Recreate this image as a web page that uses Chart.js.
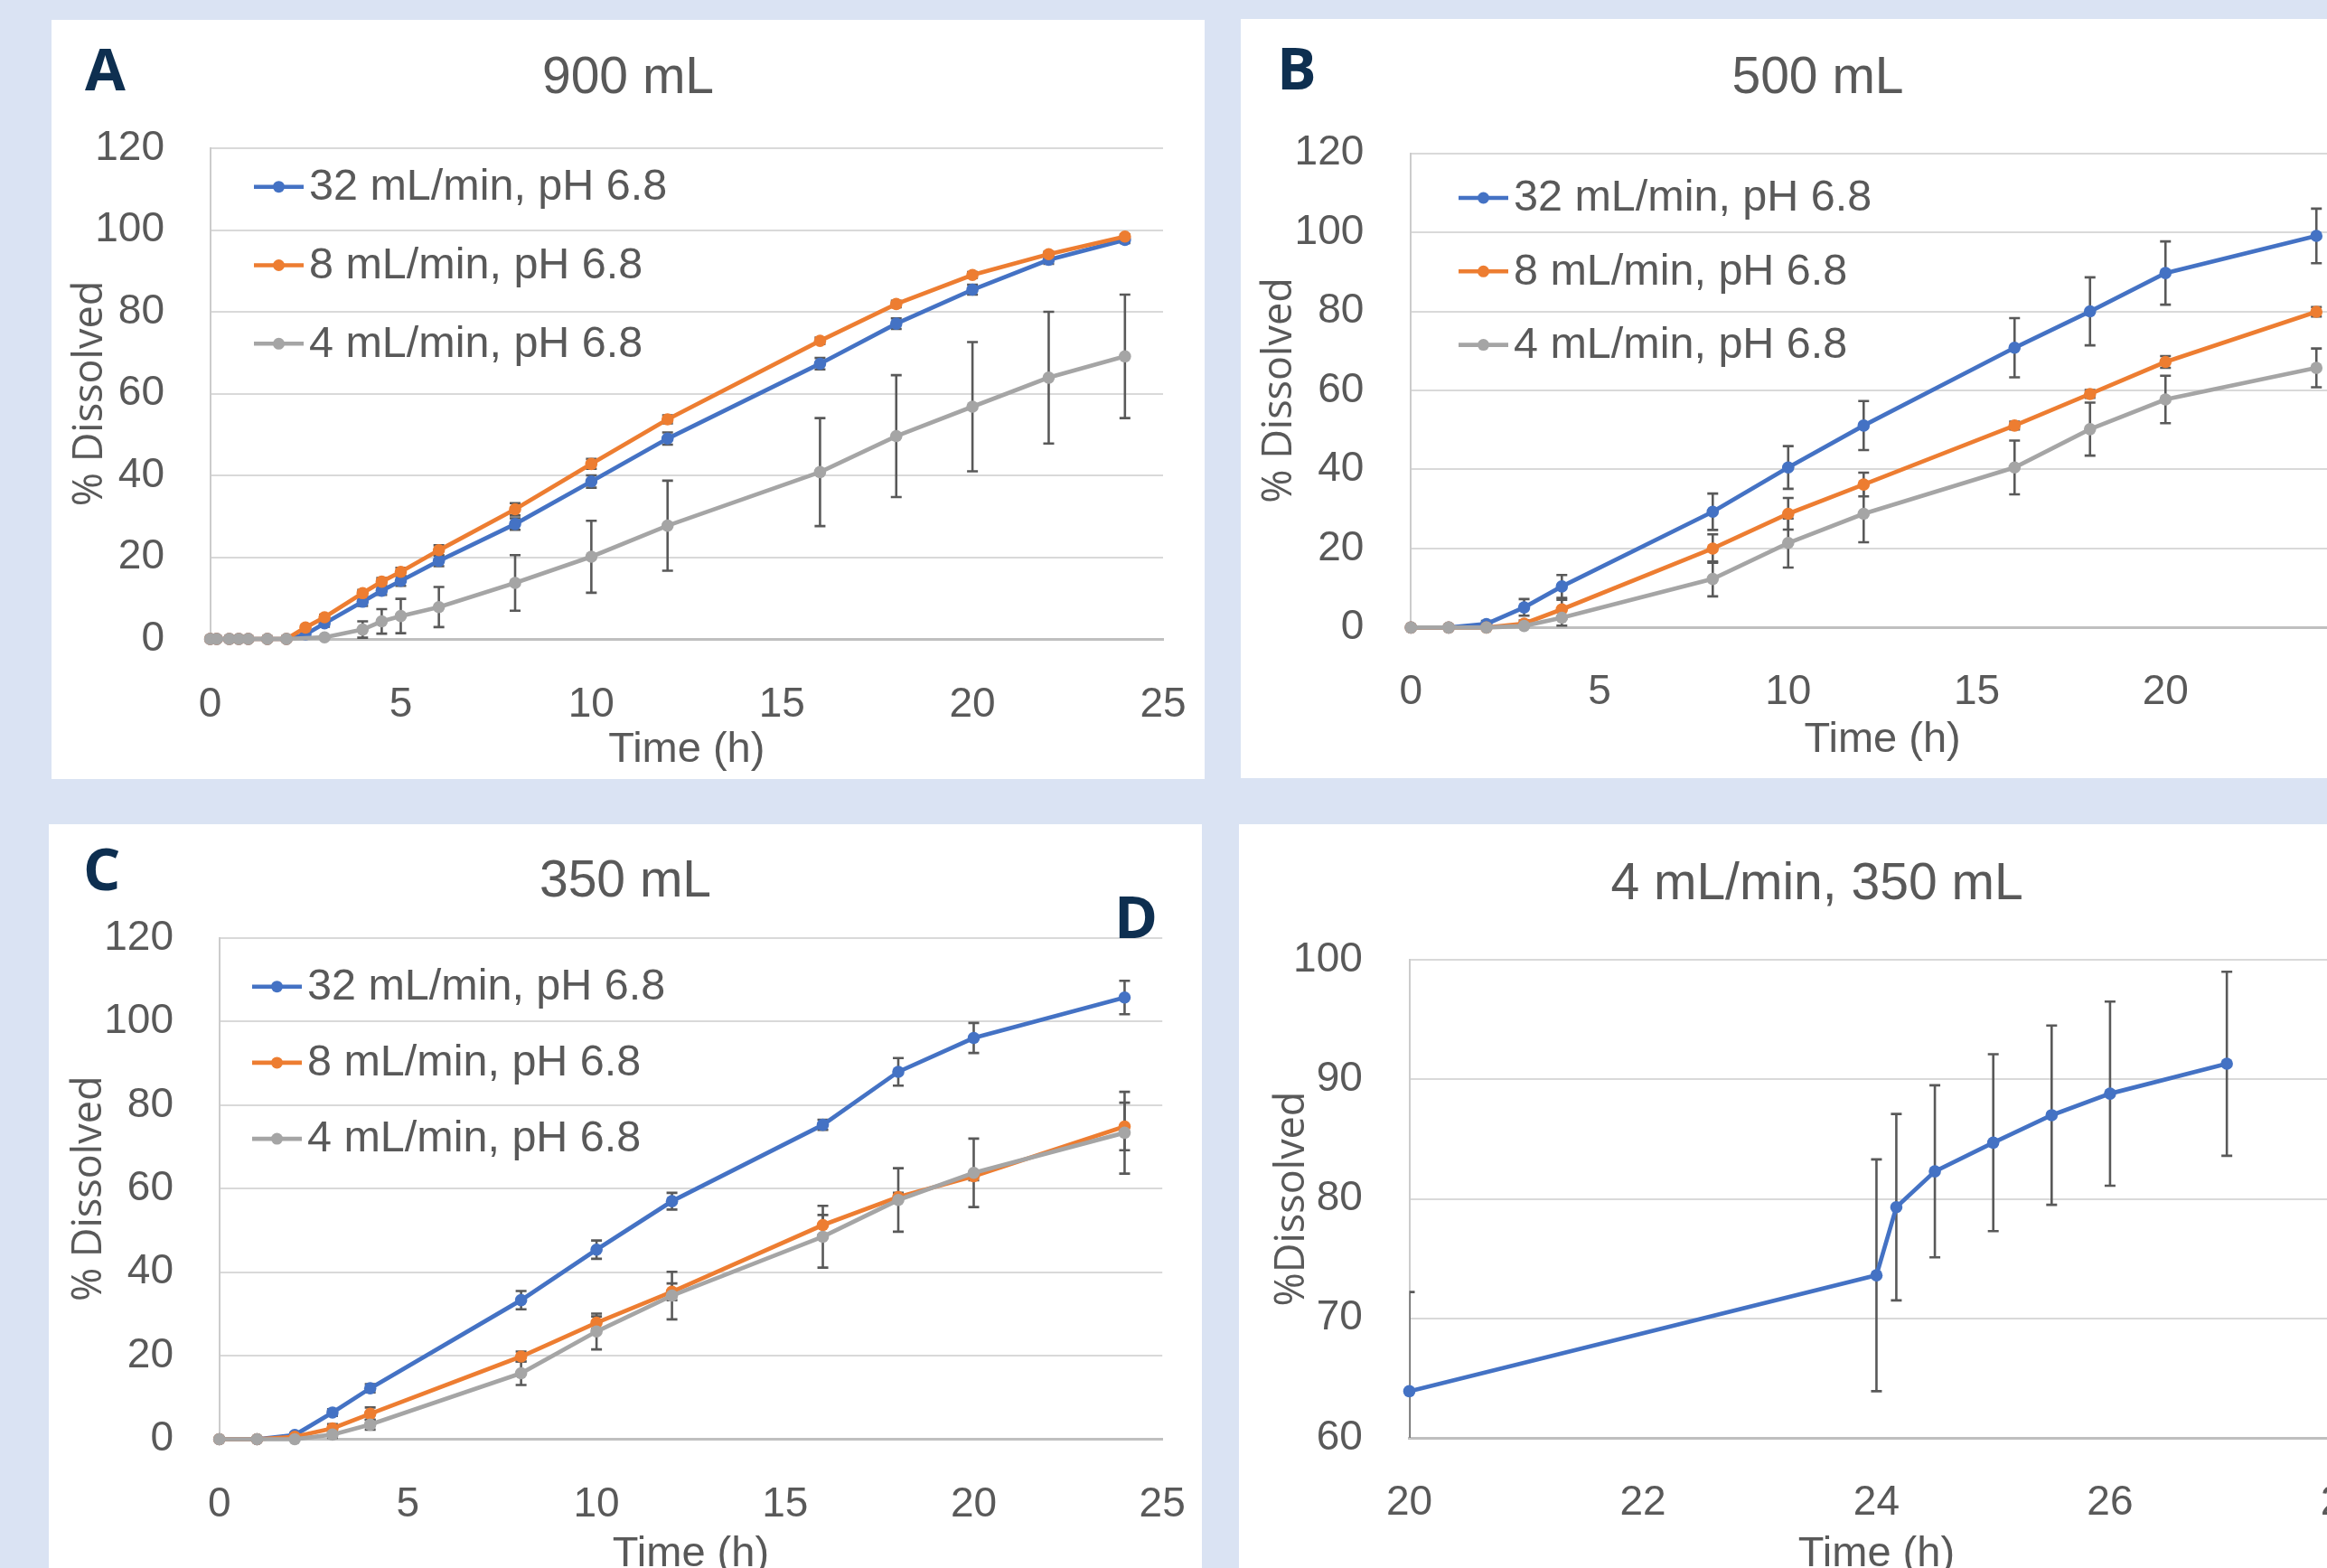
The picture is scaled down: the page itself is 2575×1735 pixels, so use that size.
<!DOCTYPE html>
<html><head><meta charset="utf-8">
<script src="https://cdn.jsdelivr.net/npm/chart.js@4.4.1/dist/chart.umd.min.js"></script>
<style>
html,body{margin:0;padding:0;width:2575px;height:1735px;overflow:hidden;background:#dae3f3;}
.panel{position:absolute;background:#fff;overflow:hidden}
canvas{display:block}
</style></head><body>
<div class="panel" style="left:57px;top:22px;width:1276px;height:840px"><canvas id="cA" width="1276" height="840"></canvas></div>
<div class="panel" style="left:1373px;top:21px;width:1277px;height:840px"><canvas id="cB" width="1277" height="840"></canvas></div>
<div class="panel" style="left:54px;top:912px;width:1276px;height:840px"><canvas id="cC" width="1276" height="840"></canvas></div>
<div class="panel" style="left:1371px;top:912px;width:1279px;height:840px"><canvas id="cD" width="1279" height="840"></canvas></div>
<script>
// ---------- DATA ----------
const seriesNames = ["32 mL/min, pH 6.8", "8 mL/min, pH 6.8", "4 mL/min, pH 6.8"];

// Panel A : 900 mL
const timeA_fast = [0,0.17,0.5,0.75,1,1.5,2,2.5,3,4,4.5,5,6,8,10,12,16,18,20,22,24];
const timeA_slow = [0,0.17,0.5,0.75,1,1.5,2,3,4,4.5,5,6,8,10,12,16,18,20,22,24];
const A_32  = [0,0,0,0,0,0,0,1.1,3.8,9.1,11.8,14.2,19.1,28.1,38.5,49.0,67.3,77.1,85.4,92.7,97.6];
const A_32e = [0,0,0,0,0,0,0,0.5,0.8,1.0,1.0,1.2,1.3,1.4,1.5,1.5,1.4,1.3,1.2,1.0,0.8];
const A_8   = [0,0,0,0,0,0,0,2.8,5.3,11.2,14.0,16.4,21.7,31.7,42.8,53.7,72.9,81.9,89.0,94.1,98.4];
const A_8e  = [0,0,0,0,0,0,0,0.5,0.6,0.8,0.9,1.0,1.2,1.5,1.2,1.0,0.8,0.8,0.7,0.6,0.5];
const A_4   = [0,0,0,0,0,0,0,0.4,2.3,4.3,5.6,7.8,13.7,20.1,27.7,40.8,49.6,56.8,63.9,69.1];
const A_4e  = [0,0,0,0,0,0,0,0.3,2.0,3.0,4.2,4.9,6.8,8.8,11.0,13.2,14.9,15.8,16.1,15.1];

// Panel B : 500 mL
const timeB = [0,1,2,3,4,8,10,12,16,18,20,24];
const B_32  = [0,0,0.9,5.1,10.4,29.3,40.5,51.1,70.8,80.0,89.7,99.1];
const B_32e = [0,0,0.8,2.1,2.9,4.6,5.4,6.2,7.5,8.6,8.0,6.9];
const B_8   = [0,0,0,1.0,4.6,20.0,28.8,36.2,51.1,59.1,67.2,79.9];
const B_8e  = [0,0,0,0.8,2.4,3.6,4.0,3.0,1.0,1.0,1.5,1.2];
const B_4   = [0,0,0,0.4,2.5,12.3,21.4,28.8,40.5,50.2,57.7,65.7];
const B_4e  = [0,0,0,0.3,2.0,4.4,6.2,7.2,6.8,6.7,6.0,4.9];

// Panel C : 350 mL
const timeC = [0,1,2,3,4,8,10,12,16,18,20,24];
const C_32  = [0,0,1.0,6.4,12.2,33.3,45.4,57.0,75.3,88.0,96.1,105.8];
const C_32e = [0,0,0.5,0.8,1.0,2.2,2.2,2.0,1.2,3.3,3.6,4.0];
const C_8   = [0,0,0.6,2.6,6.1,19.8,27.9,35.3,51.3,58.0,63.0,74.9];
const C_8e  = [0,0,0.3,1.0,1.5,1.2,1.5,2.0,2.4,1.0,1.0,5.7];
const C_4   = [0,0,0,1.1,3.5,15.8,25.8,34.4,48.5,57.3,63.8,73.4];
const C_4e  = [0,0,0,0.8,1.2,2.8,4.3,5.7,7.4,7.6,8.2,9.8];

// Panel D : 4 mL/min, 350 mL
const timeD = [20,24,24.17,24.5,25,25.5,26,27];
const D_val = [63.9,73.6,79.3,82.3,84.7,87.0,88.8,91.3];
const D_err = [8.3,9.7,7.8,7.2,7.4,7.5,7.7,7.7];

const ticksY120 = {min:0, max:120, step:20};
const ticksX25  = {min:0, max:25, step:5};
const ticksYD   = {min:60, max:100, step:10};
const ticksXD   = {min:20, max:28, step:2};

// ---------- STYLE ----------
const COLORS = ['#4472c4','#ed7d31','#a5a5a5'];
const TXT = '#595959';
const SANS = "'Liberation Sans', Arial, sans-serif";
Chart.defaults.font.family = SANS;
Chart.defaults.color = TXT;

const pts = (t, v) => t.map((x,i)=>({x:x, y:v[i]}));

const errorBars = {
  id:'errorBars',
  beforeDatasetsDraw(chart){
    const {ctx, chartArea:a, scales:{x,y}} = chart;
    ctx.save();
    ctx.beginPath(); ctx.rect(a.left, a.top-10, a.right-a.left, a.bottom-a.top+10); ctx.clip();
    ctx.strokeStyle = '#595959'; ctx.lineWidth = 2.6;
    chart.data.datasets.forEach(ds=>{
      if(!ds.errors) return;
      ds.data.forEach((p,i)=>{
        const e = ds.errors[i]; if(!e) return;
        const px = x.getPixelForValue(p.x);
        const y1 = y.getPixelForValue(p.y+e), y2 = y.getPixelForValue(p.y-e);
        ctx.beginPath();
        ctx.moveTo(px,y1); ctx.lineTo(px,y2);
        ctx.moveTo(px-6,y1); ctx.lineTo(px+6,y1);
        ctx.moveTo(px-6,y2); ctx.lineTo(px+6,y2);
        ctx.stroke();
      });
    });
    ctx.restore();
  }
};

const insideLegend = {
  id:'insideLegend',
  afterDraw(chart, args, o){
    if(!o || !o.rows) return;
    const ctx = chart.ctx;
    ctx.save();
    chart.data.datasets.forEach((ds,i)=>{
      const yy = o.y0 + i*o.dy;
      ctx.strokeStyle = ds.borderColor; ctx.lineWidth = 4.6;
      ctx.beginPath(); ctx.moveTo(o.x, yy); ctx.lineTo(o.x+55, yy); ctx.stroke();
      ctx.fillStyle = ds.borderColor;
      ctx.beginPath(); ctx.arc(o.x+27.5, yy, 6.5, 0, Math.PI*2); ctx.fill();
      ctx.fillStyle = TXT; ctx.font = "48.5px " + SANS;
      ctx.textAlign = 'left'; ctx.textBaseline = 'middle';
      ctx.fillText(ds.label, o.x+61, yy+1);
    });
    ctx.restore();
  }
};

const letters = {
  id:'letters',
  afterDraw(chart, args, o){
    if(!o || !o.list) return;
    const ctx = chart.ctx;
    ctx.save();
    ctx.fillStyle = '#0e2f50';
    ctx.font = "bold 65px 'Open Sans', " + SANS;
    ctx.textAlign = 'left'; ctx.textBaseline = 'alphabetic';
    o.list.forEach(l=> ctx.fillText(l.t, l.x, l.y));
    ctx.restore();
  }
};

function ds(label, t, v, e, ci, order){
  return {label, data:pts(t,v), errors:e, borderColor:COLORS[ci], backgroundColor:COLORS[ci],
    borderWidth:4.7, pointRadius:6.8, pointHoverRadius:6.8, pointBorderWidth:0, tension:0, clip:false, order};
}

const TITLE_LH = 57*1.2, XT_LH = 47*1.2, XTICK_LH = 46*1.2, YT_LH = 45*0.9;

function makeChart(id, c){
  const cv = document.getElementById(id);
  const cw = cv.width, ch = cv.height, a = c.area;
  const side = cw - a.r;
  const titleTop = c.titleC - TITLE_LH/2;
  const titleBottom = a.t - titleTop - TITLE_LH;
  return new Chart(cv, {
    type:'line',
    data:{datasets:c.datasets},
    plugins:[errorBars, insideLegend, letters],
    options:{
      responsive:false, animation:false, devicePixelRatio:1,
      layout:{padding:{top:0, left:side, right:side, bottom:0}},
      plugins:{
        legend:{display:false}, tooltip:{enabled:false},
        title:{display:true, text:c.title, color:TXT, font:{size:57, weight:'normal', lineHeight:1.2},
               padding:{top:titleTop, bottom:titleBottom}},
        insideLegend:c.legend || {},
        letters:{list:c.letters || []}
      },
      scales:{
        x:{type:'linear', min:c.xt.min, max:c.xt.max,
           afterFit:(s)=>{ s.height = ch - a.b; s.paddingLeft = 0; s.paddingRight = 0; },
           afterBuildTicks:(s)=>{ const arr=[]; for(let v=c.xt.min; v<=c.xt.max+1e-9; v+=c.xt.step) arr.push({value:v}); s.ticks=arr; },
           ticks:{font:{size:46, lineHeight:1.2}, color:TXT, padding:c.xTickC - a.b - XTICK_LH/2, maxRotation:0, autoSkip:false},
           grid:{display:false, drawTicks:false},
           border:{display:true, color:'#bfbfbf', width:3},
           title:{display:true, text:'Time (h)', color:TXT, font:{size:47, lineHeight:1.2},
                  padding:{top:0, bottom:ch - c.xTitleC - XT_LH/2}}
        },
        y:{type:'linear', min:c.yt.min, max:c.yt.max,
           afterFit:(s)=>{ s.width = a.l - side; },
           afterBuildTicks:(s)=>{ const arr=[]; for(let v=c.yt.min; v<=c.yt.max+1e-9; v+=c.yt.step) arr.push({value:v}); s.ticks=arr; },
           ticks:{font:{size:46}, color:TXT, padding:a.l - c.yTickR},
           grid:{color:'#d9d9d9', lineWidth:2, drawTicks:false},
           border:{display:true, color:'#cccccc', width:2},
           title:{display:true, text:c.yTitle, color:TXT, font:{size:45, family:"'Open Sans', " + SANS, lineHeight:0.9},
                  padding:{top:c.yTitleC - side - YT_LH/2, bottom:0}}
        }
      }
    }
  });
}

makeChart('cA', {
  title:'900 mL', titleC:65,
  area:{l:175.6, t:142, r:1230, b:685},
  yTickR:125, yTitleC:43, xTickC:758, xTitleC:808,
  yTitle:'% Dissolved', xt:ticksX25, yt:ticksY120,
  legend:{rows:true, x:224, y0:184.7, dy:86.8},
  letters:[{t:'A', x:37, y:78}],
  datasets:[ds(seriesNames[0], timeA_fast, A_32, A_32e, 0, 3),
            ds(seriesNames[1], timeA_fast, A_8, A_8e, 1, 2),
            ds(seriesNames[2], timeA_slow, A_4, A_4e, 2, 1)]
});
makeChart('cB', {
  title:'500 mL', titleC:66,
  area:{l:188.3, t:148.6, r:1232, b:673.4},
  yTickR:136.3, yTitleC:43, xTickC:745, xTitleC:797.6,
  yTitle:'% Dissolved', xt:ticksX25, yt:ticksY120,
  legend:{rows:true, x:241, y0:198, dy:81.3},
  letters:[{t:'B', x:40, y:78}],
  datasets:[ds(seriesNames[0], timeB, B_32, B_32e, 0, 3),
            ds(seriesNames[1], timeB, B_8, B_8e, 1, 2),
            ds(seriesNames[2], timeB, B_4, B_4e, 2, 1)]
});
makeChart('cC', {
  title:'350 mL', titleC:64,
  area:{l:188.7, t:126.1, r:1232.2, b:680.5},
  yTickR:138, yTitleC:45, xTickC:753.6, xTitleC:807.6,
  yTitle:'% Dissolved', xt:ticksX25, yt:ticksY120,
  legend:{rows:true, x:225, y0:179.7, dy:84.2},
  letters:[{t:'C', x:38, y:73}, {t:'D', x:1179, y:126}],
  datasets:[ds(seriesNames[0], timeC, C_32, C_32e, 0, 3),
            ds(seriesNames[1], timeC, C_8, C_8e, 1, 2),
            ds(seriesNames[2], timeC, C_4, C_4e, 2, 1)]
});
makeChart('cD', {
  title:'4 mL/min, 350 mL', titleC:67,
  area:{l:188.5, t:150, r:1222.4, b:679},
  yTickR:136.8, yTitleC:59.5, xTickC:751, xTitleC:807.8,
  yTitle:'%Dissolved', xt:ticksXD, yt:ticksYD,
  datasets:[ds('4 mL/min, 350 mL', timeD, D_val, D_err, 0, 1)]
});
</script>
</body></html>
